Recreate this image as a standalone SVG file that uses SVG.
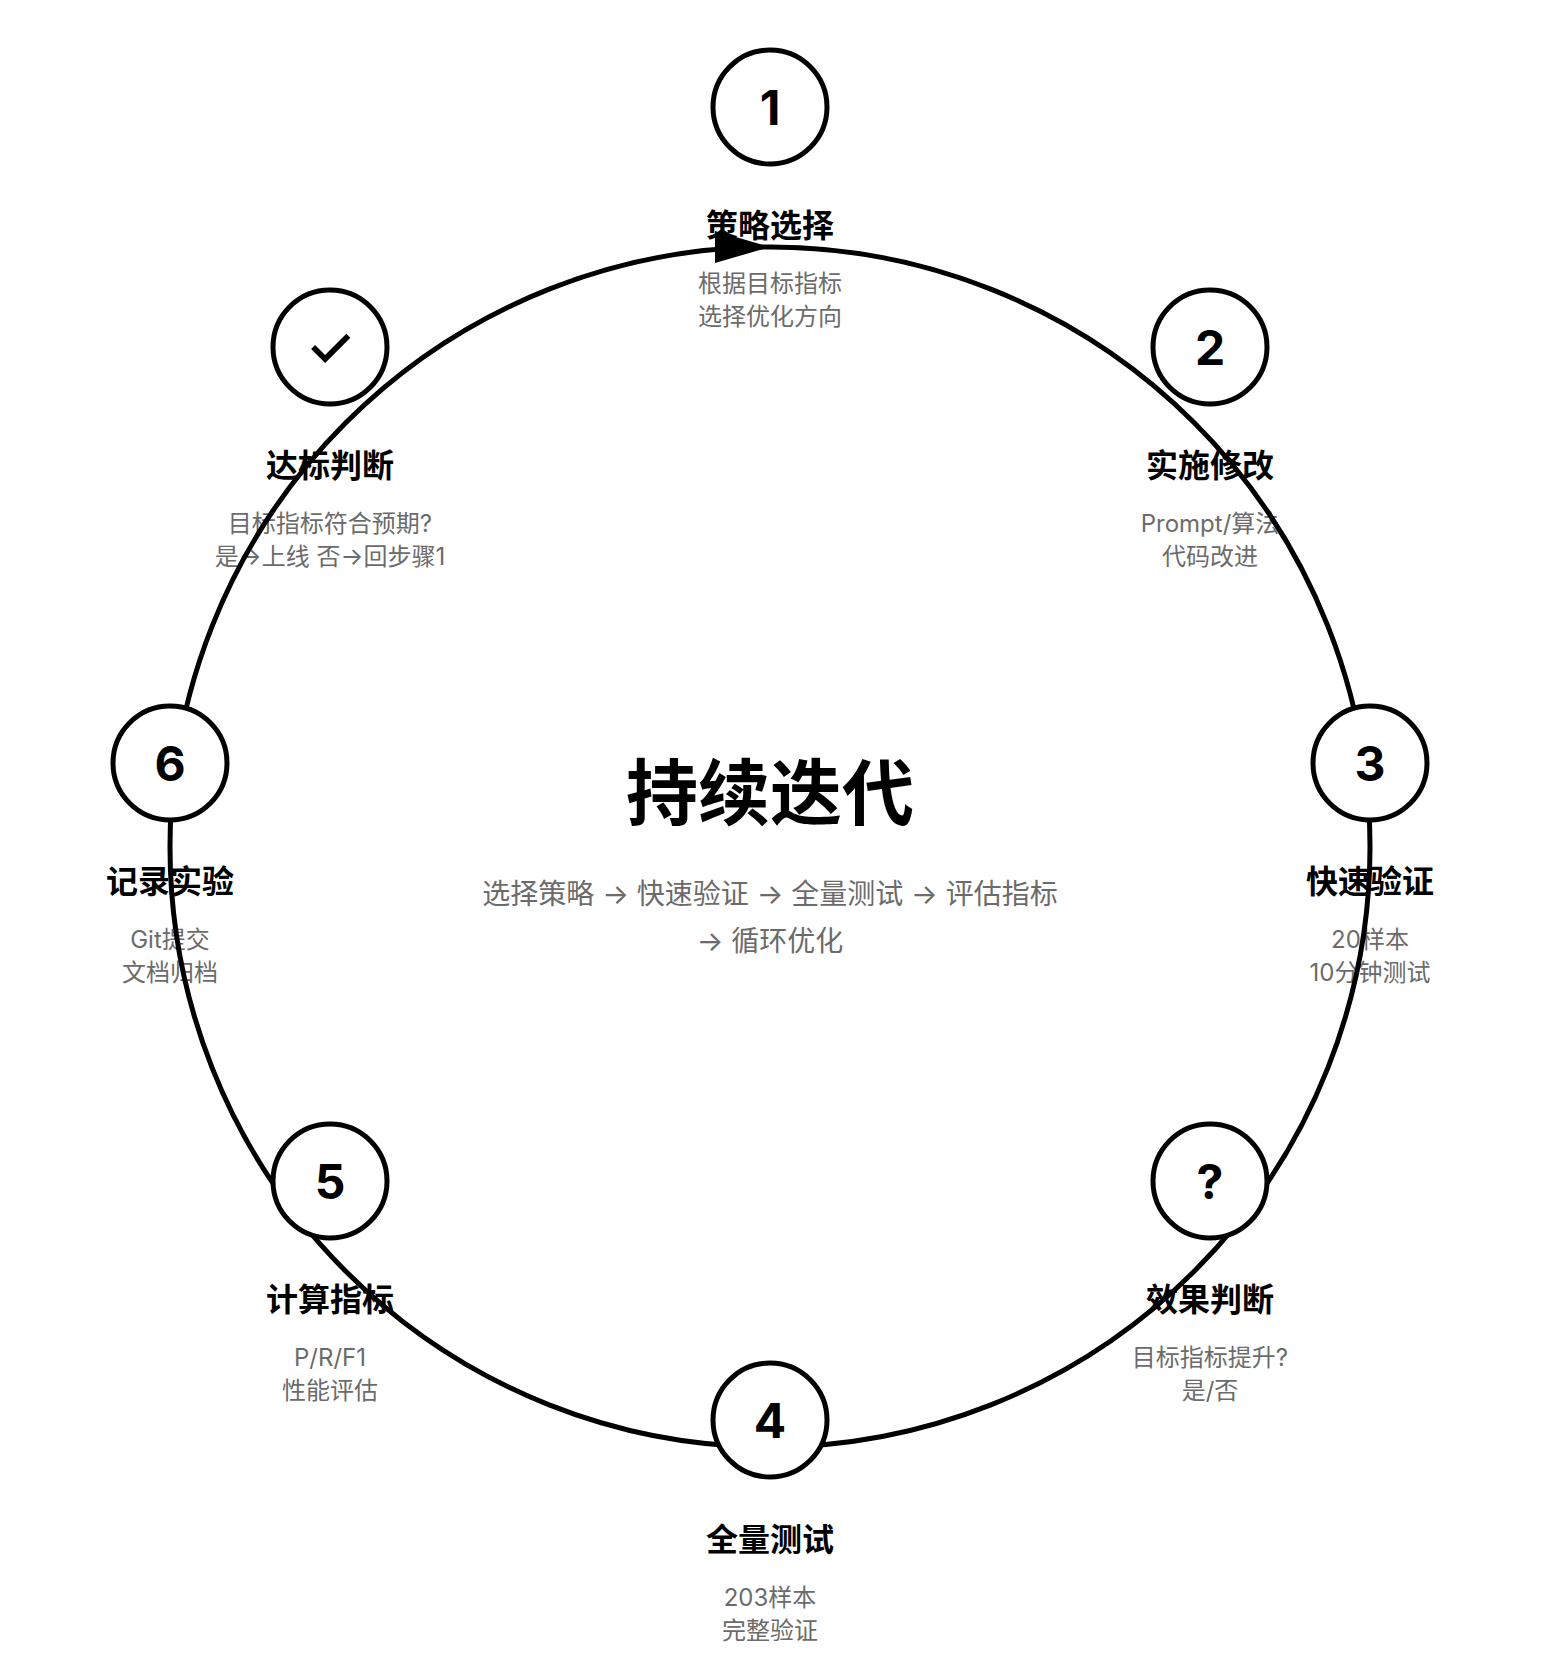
<svg xmlns="http://www.w3.org/2000/svg" width="1558" height="1666" viewBox="0 0 1558 1666">
<defs>
<style>
text { font-family: "Inter", "Noto Sans CJK SC", "Noto Sans", sans-serif; text-anchor: middle; }
.title { font-size: 32px; font-weight: 700; fill: #000; }
.desc { font-size: 24px; font-weight: 400; fill: #6b6b6b; }
.num { font-size: 48px; font-weight: 700; fill: #000; }
.check { font-size: 56px; font-weight: 500; fill: #000; }
.node-circle { fill: #fff; stroke: #000; stroke-width: 5; }
.ring { fill: none; stroke: #000; stroke-width: 5; }
.center-title { font-size: 72px; font-weight: 700; fill: #000; }
.center-sub { font-size: 28px; font-weight: 400; fill: #6b6b6b; }
</style>
<marker id="arrow" markerUnits="userSpaceOnUse" markerWidth="56" markerHeight="32" refX="55" refY="16" orient="auto">
<path d="M0,0 L55,16 L0,32 Z" fill="#000"/>
</marker>
</defs>
<rect width="1558" height="1666" fill="#fff"/>

<g id="center-label">
<text class="center-title" x="770" y="819">持续迭代</text>
<text class="center-sub" x="770" y="904">选择策略 → 快速验证 → 全量测试 → 评估指标</text>
<text class="center-sub" x="770" y="951">→ 循环优化</text>
</g>

<g id="node-labels">
<g id="label-1">
<text class="title" x="770" y="237">策略选择</text>
<text class="desc" x="770" y="292">根据目标指标</text>
<text class="desc" x="770" y="325">选择优化方向</text>
</g>
<g id="label-2">
<text class="title" x="1210" y="477">实施修改</text>
<text class="desc" x="1210" y="532">Prompt/算法</text>
<text class="desc" x="1210" y="565">代码改进</text>
</g>
<g id="label-3">
<text class="title" x="1370" y="893">快速验证</text>
<text class="desc" x="1370" y="948">20样本</text>
<text class="desc" x="1370" y="981">10分钟测试</text>
</g>
<g id="label-q">
<text class="title" x="1210" y="1311">效果判断</text>
<text class="desc" x="1210" y="1366">目标指标提升?</text>
<text class="desc" x="1210" y="1399">是/否</text>
</g>
<g id="label-4">
<text class="title" x="770" y="1551">全量测试</text>
<text class="desc" x="770" y="1606">203样本</text>
<text class="desc" x="770" y="1639">完整验证</text>
</g>
<g id="label-5">
<text class="title" x="330" y="1311">计算指标</text>
<text class="desc" x="330" y="1366">P/R/F1</text>
<text class="desc" x="330" y="1399">性能评估</text>
</g>
<g id="label-6">
<text class="title" x="170" y="893">记录实验</text>
<text class="desc" x="170" y="948">Git提交</text>
<text class="desc" x="170" y="981">文档归档</text>
</g>
<g id="label-check">
<text class="title" x="330" y="477">达标判断</text>
<text class="desc" x="330" y="532">目标指标符合预期?</text>
<text class="desc" x="330" y="565">是→上线 否→回步骤1</text>
</g>
</g>

<g id="connectors">
<path class="ring" d="M770,247 A600,600 0 0,1 770,1447 A600,600 0 0,1 770,247" marker-end="url(#arrow)"/>
</g>

<g id="nodes">
<g id="node-1">
<circle class="node-circle" cx="770" cy="107" r="57"/>
<text class="num" x="770" y="124.5">1</text>
</g>
<g id="node-2">
<circle class="node-circle" cx="1210" cy="347" r="57"/>
<text class="num" x="1210" y="364.5">2</text>
</g>
<g id="node-3">
<circle class="node-circle" cx="1370" cy="763" r="57"/>
<text class="num" x="1370" y="780.5">3</text>
</g>
<g id="node-q">
<circle class="node-circle" cx="1210" cy="1181" r="57"/>
<text class="num" x="1210" y="1198.5">?</text>
</g>
<g id="node-4">
<circle class="node-circle" cx="770" cy="1420" r="57"/>
<text class="num" x="770" y="1437.5">4</text>
</g>
<g id="node-5">
<circle class="node-circle" cx="330" cy="1181" r="57"/>
<text class="num" x="330" y="1198.5">5</text>
</g>
<g id="node-6">
<circle class="node-circle" cx="170" cy="763" r="57"/>
<text class="num" x="170" y="780.5">6</text>
</g>
<g id="node-check">
<circle class="node-circle" cx="330" cy="347" r="57"/>
<text class="check" x="330" y="367">✓</text>
</g>
</g>
</svg>
